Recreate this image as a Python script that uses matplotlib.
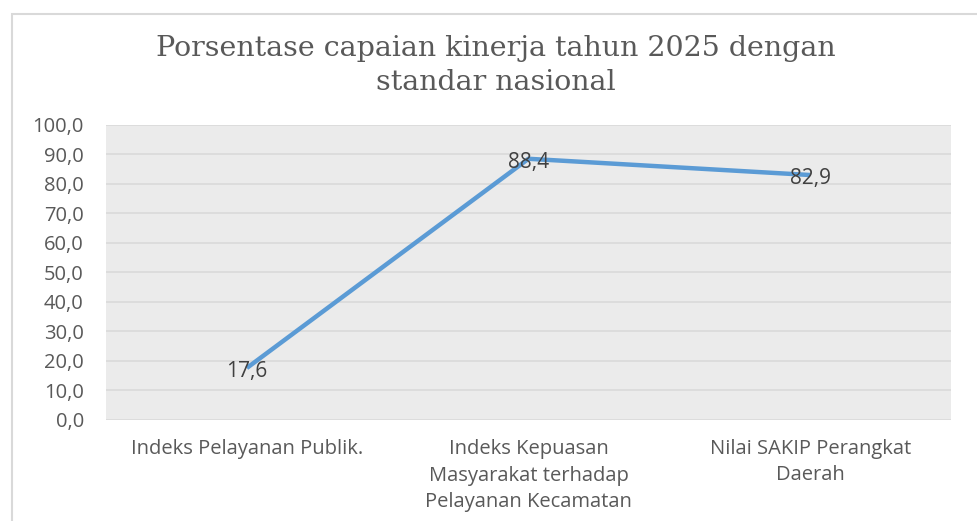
import matplotlib.pyplot as plt
from matplotlib.patches import Rectangle
from matplotlib.ticker import FuncFormatter

# Data
categories = [
    'Indeks Pelayanan Publik.',
    'Indeks Kepuasan\nMasyarakat terhadap\nPelayanan Kecamatan',
    'Nilai SAKIP Perangkat\nDaerah',
]
values = [17.6, 88.4, 82.9]
y_ticks = [0, 10, 20, 30, 40, 50, 60, 70, 80, 90, 100]
title = 'Porsentase capaian kinerja tahun 2025 dengan\nstandar nasional'

text_gray = '#595959'
line_blue = '#5b9bd5'

fig = plt.figure(figsize=(9.77, 5.21), dpi=100, facecolor='white')

# chart border (only left and top visible in the crop)
fig.patches.append(Rectangle((12 / 977, -0.1), 1.2, 1 - 14 / 521 + 0.1,
                             transform=fig.transFigure, fill=False,
                             edgecolor='#d9d9d9', linewidth=1.5))

ax = fig.add_axes([106 / 977, 1 - 420 / 521, (951 - 106) / 977, (420 - 124.5) / 521])
ax.set_facecolor('#ebebeb')

x = list(range(len(categories)))
ax.plot(x, values, color=line_blue, linewidth=3.2, solid_capstyle='butt', zorder=3)
for xi, v in zip(x, values):
    ax.annotate(f'{v:.1f}'.replace('.', ','), (xi, v), xytext=(0, -2.5),
                textcoords='offset points', ha='center', va='center',
                fontsize=15, color='#404040', family='Open Sans', zorder=4)

ax.set_xlim(-0.5, len(categories) - 0.5)
ax.set_ylim(0, 100)
ax.set_yticks(y_ticks)
ax.yaxis.set_major_formatter(FuncFormatter(lambda v, p: f'{v:.1f}'.replace('.', ',')))
ax.set_xticks(x)
ax.set_xticklabels(categories, linespacing=1.45)
ax.tick_params(axis='both', length=0, colors=text_gray, labelsize=14.5)
ax.tick_params(axis='x', pad=13.5)
ax.tick_params(axis='y', pad=16)
for lbl in ax.get_xticklabels() + ax.get_yticklabels():
    lbl.set_family('Open Sans')
    lbl.set_color(text_gray)
for lbl in ax.get_xticklabels():
    lbl.set_verticalalignment('top')

ax.grid(axis='y', color='#d9d9d9', linewidth=1.2)
ax.set_axisbelow(True)
for s in ax.spines.values():
    s.set_visible(False)

fig.text(496 / 977, 1 - 65.5 / 521, title, ha='center', va='center',
         fontsize=20.5, color=text_gray, family='DejaVu Serif', linespacing=1.3)

fig.savefig('out.png', dpi=100)
